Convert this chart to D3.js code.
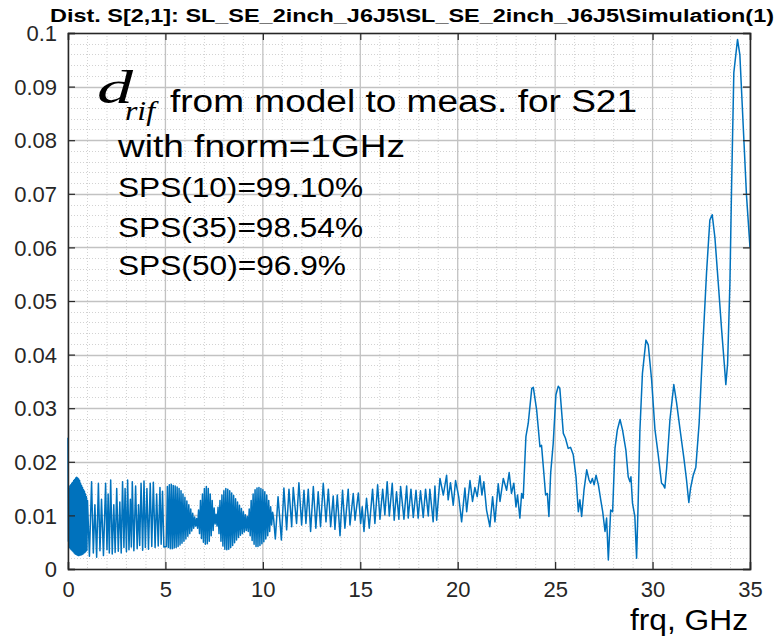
<!DOCTYPE html>
<html><head><meta charset="utf-8">
<script src="https://cdn.jsdelivr.net/npm/d3@7"></script>
<style>body{margin:0;background:#fff}svg{display:block}</style>
</head><body>
<svg id="c" width="777" height="637"></svg>
<script>
const titleText = "Dist. S[2,1]: SL_SE_2inch_J6J5\\SL_SE_2inch_J6J5\\Simulation(1)";
const xTicks = [0,5,10,15,20,25,30,35];
const yTicks = [0,0.01,0.02,0.03,0.04,0.05,0.06,0.07,0.08,0.09,0.1];
const yTickLabels = ["0","0.01","0.02","0.03","0.04","0.05","0.06","0.07","0.08","0.09","0.1"];
const xLabel = "frq, GHz";
const noteLines = ["with fnorm=1GHz","SPS(10)=99.10%","SPS(35)=98.54%","SPS(50)=96.9%"];

// frequency (GHz) / distance value pairs
const freqLow = [0,0.02,0.045,0.07,0.095,0.12,0.145,0.17,0.195,0.22,0.245,0.27,0.295,0.32,0.345,0.37,0.395,0.42,0.445,0.47,0.495,0.52,0.545,0.57,0.595,0.62,0.645,0.67,0.695,0.72,0.745,0.77,0.795,0.82,0.845,0.87,0.895,0.92,0.945,0.97,1.0,
 1.1,1.21,1.3,1.38,1.47,1.56,1.64,1.72,1.82,1.93,2.0,2.06,2.12,2.19,2.27,2.35,2.42,2.5,2.58,2.66,2.73,2.8,2.87,2.93,3.0,3.06,3.13,3.2,3.25,3.3,3.38,3.47,3.55,3.62,3.68,3.75,3.83,3.9,3.97,4.05,4.13,4.22,4.3,4.38,4.47,4.55,4.63,4.72,4.78,4.85,4.92];
const valLow = [0.0245,0.0052,0.0150,0.0040,0.0155,0.0038,0.0157,0.0036,0.0160,0.0034,0.0162,0.0032,0.0165,0.0030,0.0167,0.0028,0.0170,0.0027,0.0171,0.0026,0.0170,0.0025,0.0168,0.0025,0.0165,0.0026,0.0160,0.0026,0.0156,0.0027,0.0152,0.0028,0.0148,0.0030,0.0145,0.0031,0.0140,0.0033,0.0135,0.0035,0.0128,
 0.0024,0.0163,0.0030,0.0120,0.0022,0.0160,0.0034,0.0130,0.0025,0.0160,0.0036,0.0140,0.0030,0.0166,0.0028,0.0120,0.0031,0.0150,0.0033,0.0125,0.0030,0.0163,0.0040,0.0150,0.0032,0.0166,0.0036,0.0130,0.0041,0.0163,0.0034,0.0155,0.0038,0.0120,0.0044,0.0160,0.0035,0.0164,0.0040,0.0150,0.0037,0.0160,0.0042,0.0162,0.0040,0.0140,0.0043,0.0152,0.0046,0.0145,0.0041];

const freqBeat = [5.0,5.05,5.1,5.15,5.2,5.25,5.3,5.35,5.4,5.45,5.5,5.55,5.6,5.65,5.7,5.75,5.8,5.85,5.9,5.95,6.0,6.05,6.1,6.15,6.2,6.25,6.3,6.35,6.4,6.45,6.5,6.55,6.6,6.65,6.7,6.75,6.8,6.85,6.9,6.95,7.0,7.05,7.1,7.15,7.2,7.25,7.3,7.35,7.4,7.45,7.5,7.55,7.6,7.65,7.7,7.75,7.8,7.85,7.9,7.95,8.0,8.05,8.1,8.15,8.2,8.25,8.3,8.35,8.4,8.45,8.5,8.55,8.6,8.65,8.7,8.75,8.8,8.85,8.9,8.95,9.0,9.05,9.1,9.15,9.2,9.25,9.3,9.35,9.4,9.45,9.5,9.55,9.6,9.65,9.7,9.75,9.8,9.85,9.9,9.95,10.0,10.05,10.1,10.15,10.2,10.25,10.3,10.35,10.4,10.45,10.5];
const valBeat = [0.0150,0.0042,0.0154,0.0040,0.0157,0.0038,0.0158,0.0038,0.0156,0.0039,0.0155,0.0040,0.0153,0.0042,0.0150,0.0045,0.0146,0.0048,0.0140,0.0052,0.0134,0.0056,0.0127,0.0061,0.0120,0.0066,0.0112,0.0071,0.0104,0.0076,0.0097,0.0080,0.0094,0.0076,0.0110,0.0066,0.0128,0.0057,0.0140,0.0050,0.0150,0.0046,0.0154,0.0047,0.0150,0.0052,0.0140,0.0062,0.0128,0.0072,0.0114,0.0084,0.0102,0.0080,0.0115,0.0066,0.0128,0.0052,0.0138,0.0043,0.0146,0.0037,0.0150,0.0036,0.0149,0.0037,0.0146,0.0040,0.0142,0.0044,0.0137,0.0049,0.0131,0.0054,0.0125,0.0059,0.0119,0.0063,0.0113,0.0066,0.0107,0.0069,0.0101,0.0072,0.0098,0.0070,0.0112,0.0062,0.0128,0.0053,0.0140,0.0046,0.0148,0.0042,0.0151,0.0042,0.0152,0.0044,0.0150,0.0047,0.0148,0.0051,0.0144,0.0056,0.0138,0.0062,0.0128,0.0070,0.0116,0.0082,0.0106];

const freqMid = [10.55,10.64,10.78,10.95,11.08,11.22,11.34,11.48,11.56,11.73,11.85,11.99,12.11,12.21,12.33,12.45,12.59,12.72,12.84,12.96,13.10,13.24,13.36,13.48,13.61,13.70,13.82,13.96,14.09,14.21,14.38,14.47,14.64,14.73,14.90,15.02,15.10,15.19,15.32,15.46,15.63,15.75,15.89,16.01,16.15,16.26,16.38,16.49,16.64,16.74,16.86,16.98,17.07,17.24,17.38,17.46,17.60,17.72,17.86,17.97,18.09,18.23,18.35,18.49,18.57,18.74,18.83,18.92,19.09,19.26,19.43,19.51,19.63,19.77,19.89,20.05,20.20,20.37,20.46,20.63,20.76,20.88,21.00,21.14,21.24,21.34,21.48,21.65,21.79,21.91,22.08];
const valMid = [0.0095,0.0056,0.0135,0.0054,0.0151,0.0073,0.0149,0.0079,0.0152,0.0085,0.0161,0.0082,0.0147,0.0085,0.0149,0.0070,0.0154,0.0076,0.0144,0.0079,0.0160,0.0088,0.0149,0.0079,0.0136,0.0074,0.0138,0.0062,0.0147,0.0076,0.0149,0.0082,0.0141,0.0091,0.0142,0.0085,0.0116,0.0070,0.0132,0.0076,0.0149,0.0085,0.0157,0.0093,0.0149,0.0101,0.0163,0.0099,0.0160,0.0091,0.0144,0.0093,0.0154,0.0093,0.0155,0.0095,0.0149,0.0096,0.0147,0.0095,0.0146,0.0096,0.0149,0.0099,0.0149,0.0088,0.0155,0.0091,0.0169,0.0138,0.0175,0.0129,0.0161,0.0119,0.0165,0.0135,0.0088,0.0151,0.0107,0.0165,0.0126,0.0152,0.0135,0.0174,0.0138,0.0163,0.0110,0.0079,0.0135,0.0088,0.0159];

const freqHigh = [22.17,22.34,22.51,22.64,22.76,22.88,22.99,23.07,23.19,23.28,23.36,23.50,23.62,23.80,23.88,24.05,24.22,24.30,24.42,24.51,24.60,24.68,24.77,24.90,25.04,25.16,25.24,25.42,25.53,25.67,25.79,25.93,26.07,26.19,26.27,26.36,26.48,26.62,26.74,26.82,26.91,27.00,27.10,27.22,27.34,27.44,27.56,27.64,27.73,27.85,27.95,28.07,28.19,28.33,28.46,28.63,28.75,28.84,28.89,28.97,29.09,29.18,29.26,29.35,29.48,29.66,29.78,29.95,30.12,30.29,30.46,30.55,30.63,30.72,30.89,31.09,31.23,31.44,31.61,31.74,31.86,31.95,32.08,32.22,32.39,32.56,32.77,32.94,33.06,33.20,33.37,33.54,33.68,33.76,33.85,33.97,34.05,34.17,34.36,34.48,34.65,34.82,35.0];
const valHigh = [0.0126,0.0169,0.0147,0.0180,0.0141,0.0160,0.0116,0.0138,0.0095,0.0141,0.0132,0.0247,0.0272,0.0337,0.0339,0.0297,0.0228,0.0231,0.0179,0.0138,0.0141,0.0098,0.0179,0.0234,0.0325,0.0341,0.0337,0.0253,0.0244,0.0225,0.0227,0.0213,0.0172,0.0107,0.0129,0.0098,0.0147,0.0185,0.0166,0.0160,0.0169,0.0157,0.0175,0.0157,0.0129,0.0107,0.0070,0.0095,0.0017,0.0110,0.0107,0.0225,0.0259,0.0279,0.0259,0.0222,0.0172,0.0163,0.0172,0.0123,0.0098,0.0020,0.0123,0.0259,0.0365,0.0427,0.0418,0.0353,0.0261,0.0213,0.0160,0.0157,0.0151,0.0187,0.0278,0.0344,0.0311,0.0252,0.0206,0.0167,0.0124,0.0151,0.0174,0.0190,0.0272,0.0403,0.0553,0.0651,0.0661,0.0618,0.0534,0.0448,0.0383,0.0344,0.0383,0.0534,0.0704,0.0926,0.0988,0.0959,0.0828,0.0697,0.0600];

const freqs = freqLow.concat(freqBeat.slice(1), freqMid, freqHigh);
const vals = valLow.concat(valBeat.slice(1), valMid, valHigh);
const data = freqs.map((f,i)=>({f, v: vals[i]}));

const svg = d3.select("#c");
const L = 68, R = 750, T = 33, B = 569;
const x = d3.scaleLinear().domain([0,35]).range([L,R]);
const y = d3.scaleLinear().domain([0,0.1]).range([B,T]);

svg.append("rect").attr("x",L).attr("y",T).attr("width",R-L).attr("height",B-T).attr("fill","#fff");

// minor grid
const g = svg.append("g");
const xMinor = d3.range(0,36,1).filter(d=>d%5!==0);
const yMinor = d3.range(0,101,2).map(d=>d/1000).filter((d,i)=>i%5!==0);
g.selectAll(".xm").data(xMinor).join("line").attr("x1",d=>x(d)).attr("x2",d=>x(d)).attr("y1",T).attr("y2",B)
 .attr("stroke","#d2d2d2").attr("stroke-width",1).attr("stroke-dasharray","1,2");
g.selectAll(".ym").data(yMinor).join("line").attr("y1",d=>Math.round(y(d))+0.5).attr("y2",d=>Math.round(y(d))+0.5).attr("x1",L).attr("x2",R)
 .attr("stroke","#d2d2d2").attr("stroke-width",1).attr("stroke-dasharray","1,2");
// major grid
g.selectAll(".xg").data(xTicks).join("line").attr("x1",d=>x(d)).attr("x2",d=>x(d)).attr("y1",T).attr("y2",B)
 .attr("stroke","#c2c2c2").attr("stroke-width",1.3);
g.selectAll(".yg").data(yTicks).join("line").attr("y1",d=>Math.round(y(d))+0.5).attr("y2",d=>Math.round(y(d))+0.5).attr("x1",L).attr("x2",R)
 .attr("stroke","#c2c2c2").attr("stroke-width",1.3);

// data line
const line = d3.line().x(d=>x(d.f)).y(d=>y(d.v));
svg.append("path").datum(data).attr("d",line).attr("fill","none")
 .attr("stroke","#0072BD").attr("stroke-width",1.5).attr("stroke-linejoin","round");

// axes
const tickCol = "#262626";
const ff = "Liberation Sans, Arial, sans-serif";
const axB = svg.append("g").attr("transform",`translate(0,${B})`)
 .call(d3.axisBottom(x).tickValues(xTicks).tickSize(-7).tickPadding(12).tickFormat(d3.format("d")));
const axT = svg.append("g").attr("transform",`translate(0,${T})`)
 .call(d3.axisTop(x).tickValues(xTicks).tickSize(-7).tickFormat(""));
const axL = svg.append("g").attr("transform",`translate(${L},0)`)
 .call(d3.axisLeft(y).tickValues(yTicks).tickSize(-7).tickPadding(11).tickFormat((d,i)=>yTickLabels[i]));
const axR = svg.append("g").attr("transform",`translate(${R},0)`)
 .call(d3.axisRight(y).tickValues(yTicks).tickSize(-7).tickFormat(""));
[axB,axT,axL,axR].forEach(a=>{
  a.select(".domain").attr("stroke",tickCol).attr("stroke-width",1.5);
  a.selectAll(".tick line").attr("stroke",tickCol).attr("stroke-width",1.2);
  a.selectAll("text").attr("fill",tickCol).attr("font-family",ff).attr("font-size",22);
});
axL.selectAll("text").attr("dy","0.35em");

// title
svg.append("text").attr("x",(L+R)/2+3).attr("y",22).attr("text-anchor","middle")
 .attr("font-family",ff).attr("font-weight","bold").attr("font-size",18)
 .attr("textLength",724).attr("lengthAdjust","spacingAndGlyphs").attr("fill","#000").text(titleText);

// x label
svg.append("text").attr("x",748).attr("y",630).attr("text-anchor","end")
 .attr("font-family",ff).attr("font-size",29).attr("textLength",118).attr("lengthAdjust","spacingAndGlyphs")
 .attr("fill","#000").text(xLabel);

// annotation
const serif = "Liberation Serif, Times New Roman, serif";
svg.append("text").attr("x",97).attr("y",103).attr("font-family",serif)
 .attr("font-style","italic").attr("font-size",46).attr("textLength",36).attr("lengthAdjust","spacingAndGlyphs")
 .attr("fill","#000").text("d");
svg.append("text").attr("x",125).attr("y",120).attr("font-family",serif)
 .attr("font-style","italic").attr("font-size",28).attr("textLength",30).attr("lengthAdjust","spacingAndGlyphs")
 .attr("fill","#000").text("rif");
svg.append("text").attr("x",170).attr("y",112).attr("font-family",ff).attr("font-size",31)
 .attr("textLength",467).attr("lengthAdjust","spacingAndGlyphs").attr("fill","#000").text("from model to meas. for S21");
const noteY = [157,197,237,275];
const noteSize = [31,27,27,27];
const noteLen = [287,245,245,228];
noteLines.forEach((t,i)=>{
  svg.append("text").attr("x",118).attr("y",noteY[i]).attr("font-family",ff).attr("font-size",noteSize[i])
   .attr("textLength",noteLen[i]).attr("lengthAdjust","spacingAndGlyphs").attr("fill","#000").text(t);
});
</script>
</body></html>
